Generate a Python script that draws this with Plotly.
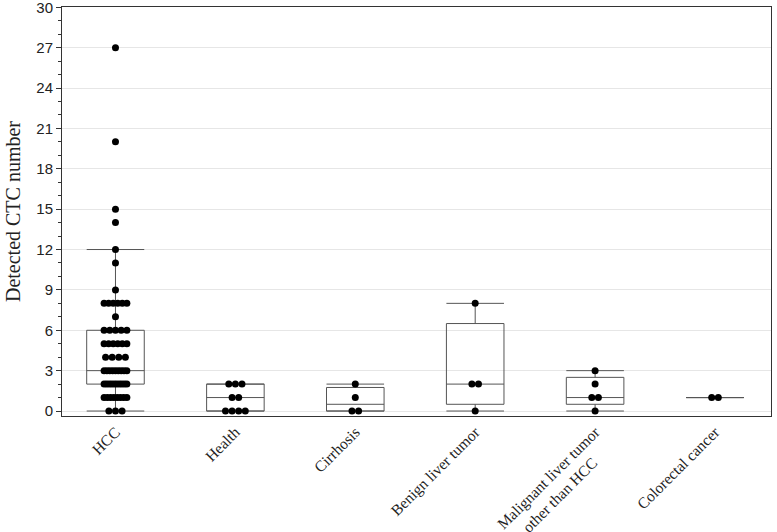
import plotly.graph_objects as go
from collections import Counter
import math

categories = ["HCC", "Health", "Cirrhosis", "Benign liver tumor",
              "Malignant liver tumor<br>other than HCC" + "\u00a0" * 6, "Colorectal cancer"]

hcc = [0]*3 + [1]*8 + [2]*10 + [3]*9 + [4]*4 + [5]*6 + [6]*5 + [7] + [8]*6 + [9, 11, 12, 14, 15, 20, 27]
health = [0, 0, 0, 0, 1, 1, 2, 2, 2]
cirrhosis = [0, 0, 1, 2]
benign = [0, 2, 2, 8]
malignant = [0, 1, 1, 2, 3]
colorectal = [1, 1]

groups = [hcc, health, cirrhosis, benign, malignant, colorectal]

y_ticks = [0, 3, 6, 9, 12, 15, 18, 21, 24, 27, 30]


def quant(vals, p):
    s = sorted(vals)
    n = len(s)
    pos = (n + 1) * p
    pos = min(max(pos, 1), n)
    lo = math.floor(pos)
    frac = pos - lo
    if lo >= n:
        return s[-1]
    return s[lo - 1] + frac * (s[lo] - s[lo - 1])


fig = go.Figure()
for i, vals in enumerate(groups):
    q1, med, q3 = quant(vals, 0.25), quant(vals, 0.5), quant(vals, 0.75)
    iqr = q3 - q1
    lf = min(v for v in vals if v >= q1 - 1.5 * iqr)
    uf = max(v for v in vals if v <= q3 + 1.5 * iqr)
    fig.add_trace(go.Box(
        x=[i], q1=[q1], median=[med], q3=[q3], lowerfence=[lf], upperfence=[uf],
        boxpoints=False, width=0.48, whiskerwidth=1, fillcolor="rgba(0,0,0,0)",
        line=dict(color="#555555", width=1), showlegend=False,
    ))
    # deterministic swarm offsets for points sharing a value
    xs, ys = [], []
    counts = Counter(vals)
    for v, k in sorted(counts.items()):
        sp = 0.055 if k < 2 else min(0.055, 0.19 / (k - 1))
        for j in range(k):
            xs.append(i + (j - (k - 1) / 2) * sp)
            ys.append(v)
    fig.add_trace(go.Scatter(x=xs, y=ys, mode="markers",
                             marker=dict(color="black", size=7),
                             showlegend=False, hoverinfo="y"))

fig.update_layout(
    width=777, height=532,
    margin=dict(l=62, r=6, t=7, b=116),
    plot_bgcolor="white", paper_bgcolor="white",
    font=dict(family="Liberation Sans, Arial", color="#222222", size=14),
)
fig.update_xaxes(
    range=[-0.446, 5.467], tickmode="array", tickvals=list(range(6)), ticktext=categories,
    tickangle=-45, tickfont=dict(family="Liberation Serif, Times New Roman", size=15.5, color="#222222"),
    showgrid=False, zeroline=False, showline=True, linecolor="#333333", mirror=True,
    ticks="", automargin=False, ticklabeloverflow="allow",
)
fig.update_yaxes(
    range=[-0.37, 30.02], tickmode="array", tickvals=y_ticks,
    showgrid=True, gridcolor="#e6e6e6", zeroline=False,
    showline=True, linecolor="#333333", mirror=True,
    ticks="outside", ticklen=5, tickcolor="#333333",
    minor=dict(dtick=1, ticks="outside", ticklen=3, tickcolor="#333333", showgrid=False),
    tickfont=dict(size=15), automargin=False, ticklabeloverflow="allow",
    title=dict(text="Detected CTC number",
               font=dict(family="Liberation Serif, Times New Roman", size=20, color="#222222"), standoff=10),
)

fig.write_html("out.html", config={"displayModeBar": False},
               post_script="document.body.style.margin='0';")
